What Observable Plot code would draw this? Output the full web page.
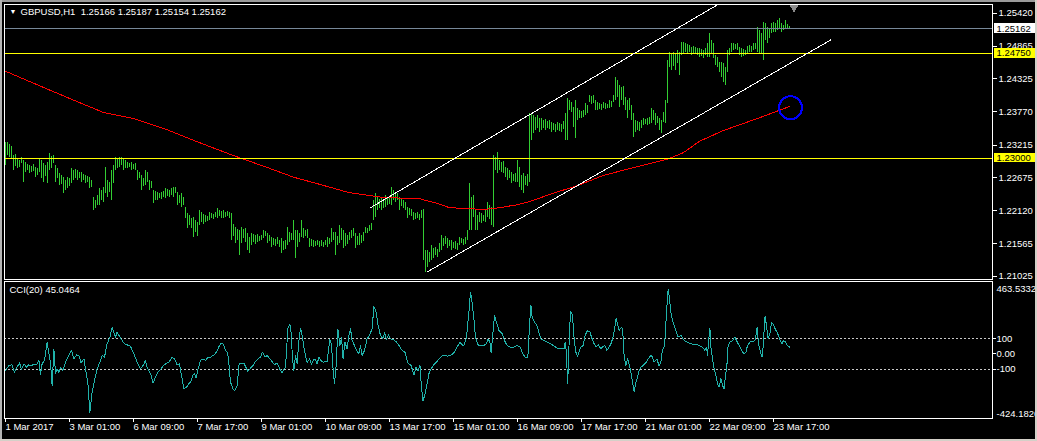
<!DOCTYPE html>
<html><head><meta charset="utf-8">
<script src="https://cdn.jsdelivr.net/npm/d3@7"></script>
<script src="https://cdn.jsdelivr.net/npm/@observablehq/plot@0.6"></script>
<style>
html,body{margin:0;padding:0;background:#000;}
#wrap{position:relative;width:1037px;height:441px;background:#000;overflow:hidden;}
#main,#cci{position:absolute;left:0;}
#main{top:0;} #cci{top:280px;}
svg{shape-rendering:crispEdges;}
.b{position:absolute;}
</style></head><body>
<div id="wrap"><div id="main"></div><div id="cci"></div>
<div class="b" style="left:0;top:0;width:1037px;height:2px;background:#9a9a9a"></div>
<div class="b" style="left:0;top:0;width:2px;height:441px;background:#b4b4b4"></div>
<div class="b" style="left:1035px;top:0;width:2px;height:441px;background:#d4d0c8"></div>
<div class="b" style="left:0;top:439px;width:1037px;height:2px;background:#d4d0c8"></div>
</div>
<script>
const titleText = "GBPUSD,H1\u00a0\u00a01.25166 1.25187 1.25154 1.25162";
const cciTitle = "CCI(20) 45.0464";

const barHigh = [
1.2326,1.2326,1.2323,1.2319,1.2304,1.2306,1.2299,1.2296,1.2301,1.2296,
1.2293,1.2289,1.2288,1.2286,1.2289,1.2284,1.2283,1.2298,1.2296,1.2291,
1.2288,1.2293,1.2308,1.2303,1.2304,1.2288,1.2283,1.2274,1.2271,1.2268,
1.2262,1.2268,1.2266,1.2283,1.2279,1.2281,1.2279,1.2276,1.2276,1.2273,
1.2271,1.2269,1.2268,1.2262,1.2234,1.2229,1.2237,1.2249,1.2246,1.2251,
1.2284,1.2262,1.2259,1.2279,1.2288,1.2301,1.2299,1.2301,1.2301,1.2299,
1.2296,1.2293,1.2291,1.2293,1.2289,1.2291,1.2279,1.2276,1.2271,1.2266,
1.2279,1.2276,1.2262,1.2261,1.2246,1.2244,1.2242,1.2241,1.2242,1.2244,
1.2249,1.2247,1.2246,1.2249,1.2251,1.2251,1.2242,1.2237,1.2241,1.2234,
1.2217,1.2207,1.2204,1.2199,1.2200,1.2196,1.2192,1.2212,1.2209,1.2205,
1.2204,1.2202,1.2209,1.2207,1.2205,1.2209,1.2216,1.2212,1.2210,1.2212,
1.2209,1.2210,1.2209,1.2207,1.2189,1.2184,1.2180,1.2179,1.2184,1.2180,
1.2182,1.2174,1.2167,1.2174,1.2172,1.2170,1.2172,1.2169,1.2170,1.2179,
1.2177,1.2174,1.2170,1.2167,1.2165,1.2164,1.2167,1.2162,1.2165,1.2160,
1.2162,1.2184,1.2175,1.2174,1.2196,1.2179,1.2179,1.2174,1.2196,1.2182,
1.2179,1.2180,1.2165,1.2164,1.2162,1.2160,1.2162,1.2160,1.2162,1.2159,
1.2162,1.2167,1.2165,1.2182,1.2175,1.2175,1.2169,1.2187,1.2182,1.2179,
1.2174,1.2170,1.2175,1.2179,1.2182,1.2174,1.2169,1.2174,1.2170,1.2175,
1.2184,1.2182,1.2187,1.2190,1.2229,1.2241,1.2234,1.2231,1.2232,1.2229,
1.2237,1.2234,1.2236,1.2251,1.2246,1.2242,1.2241,1.2234,1.2231,1.2229,
1.2226,1.2217,1.2216,1.2214,1.2209,1.2207,1.2209,1.2205,1.2212,1.2214,
1.2146,1.2146,1.2142,1.2154,1.2149,1.2150,1.2147,1.2157,1.2170,1.2165,
1.2169,1.2165,1.2162,1.2162,1.2159,1.2160,1.2157,1.2167,1.2165,1.2164,
1.2167,1.2179,1.2257,1.2234,1.2237,1.2212,1.2204,1.2209,1.2207,1.2204,
1.2212,1.2226,1.2221,1.2217,1.2304,1.2301,1.2309,1.2296,1.2293,1.2294,
1.2284,1.2283,1.2279,1.2276,1.2273,1.2274,1.2296,1.2284,1.2271,1.2274,
1.2269,1.2273,1.2374,1.2374,1.2371,1.2368,1.2371,1.2366,1.2366,1.2363,
1.2364,1.2361,1.2363,1.2359,1.2358,1.2356,1.2359,1.2358,1.2356,1.2361,
1.2374,1.2399,1.2396,1.2392,1.2384,1.2396,1.2382,1.2379,1.2378,1.2379,
1.2391,1.2387,1.2404,1.2403,1.2404,1.2396,1.2392,1.2391,1.2389,1.2392,
1.2391,1.2389,1.2396,1.2394,1.2404,1.2435,1.2430,1.2421,1.2418,1.2420,
1.2401,1.2396,1.2399,1.2387,1.2374,1.2363,1.2361,1.2359,1.2363,1.2366,
1.2364,1.2366,1.2368,1.2382,1.2379,1.2374,1.2369,1.2366,1.2363,1.2376,
1.2396,1.2463,1.2476,1.2475,1.2476,1.2475,1.2480,1.2476,1.2493,1.2493,
1.2491,1.2490,1.2488,1.2485,1.2486,1.2485,1.2483,1.2483,1.2481,1.2480,
1.2483,1.2491,1.2508,1.2496,1.2491,1.2471,1.2468,1.2460,1.2460,1.2458,
1.2451,1.2480,1.2483,1.2491,1.2491,1.2490,1.2491,1.2485,1.2483,1.2481,
1.2480,1.2486,1.2488,1.2486,1.2491,1.2491,1.2518,1.2513,1.2508,1.2526,
1.2525,1.2518,1.2516,1.2525,1.2526,1.2525,1.2530,1.2533,1.2525,1.2521,
1.2530,1.2523,1.2519];

const barLow = [
1.2288,1.2304,1.2301,1.2299,1.2279,1.2286,1.2283,1.2284,1.2291,1.2259,
1.2276,1.2279,1.2274,1.2276,1.2278,1.2268,1.2271,1.2276,1.2266,1.2259,
1.2269,1.2257,1.2279,1.2283,1.2291,1.2259,1.2266,1.2254,1.2256,1.2241,
1.2246,1.2249,1.2252,1.2257,1.2262,1.2266,1.2262,1.2266,1.2259,1.2262,
1.2257,1.2259,1.2249,1.2251,1.2212,1.2216,1.2221,1.2221,1.2229,1.2226,
1.2241,1.2234,1.2242,1.2229,1.2257,1.2279,1.2283,1.2284,1.2288,1.2279,
1.2283,1.2283,1.2284,1.2279,1.2281,1.2279,1.2262,1.2266,1.2246,1.2252,
1.2254,1.2259,1.2246,1.2249,1.2224,1.2229,1.2229,1.2232,1.2231,1.2234,
1.2232,1.2236,1.2234,1.2237,1.2234,1.2241,1.2221,1.2224,1.2217,1.2221,
1.2199,1.2182,1.2187,1.2182,1.2167,1.2175,1.2169,1.2187,1.2192,1.2189,
1.2192,1.2194,1.2196,1.2199,1.2197,1.2200,1.2199,1.2202,1.2199,1.2199,
1.2200,1.2202,1.2199,1.2162,1.2169,1.2157,1.2162,1.2137,1.2157,1.2165,
1.2159,1.2146,1.2141,1.2154,1.2159,1.2155,1.2159,1.2160,1.2162,1.2165,
1.2169,1.2157,1.2160,1.2150,1.2154,1.2152,1.2155,1.2150,1.2141,1.2146,
1.2147,1.2154,1.2159,1.2162,1.2162,1.2132,1.2150,1.2159,1.2167,1.2165,
1.2169,1.2165,1.2150,1.2152,1.2150,1.2152,1.2154,1.2150,1.2152,1.2150,
1.2154,1.2150,1.2155,1.2159,1.2162,1.2137,1.2154,1.2157,1.2162,1.2149,
1.2152,1.2155,1.2162,1.2165,1.2169,1.2149,1.2154,1.2154,1.2157,1.2160,
1.2174,1.2174,1.2177,1.2179,1.2196,1.2200,1.2212,1.2216,1.2212,1.2216,
1.2217,1.2221,1.2222,1.2221,1.2229,1.2226,1.2229,1.2212,1.2219,1.2216,
1.2212,1.2199,1.2204,1.2202,1.2196,1.2197,1.2199,1.2196,1.2199,1.2129,
1.2109,1.2117,1.2125,1.2129,1.2132,1.2137,1.2134,1.2142,1.2146,1.2152,
1.2155,1.2149,1.2152,1.2146,1.2149,1.2147,1.2146,1.2154,1.2157,1.2154,
1.2155,1.2162,1.2179,1.2179,1.2200,1.2179,1.2179,1.2192,1.2190,1.2194,
1.2192,1.2200,1.2197,1.2187,1.2184,1.2279,1.2274,1.2279,1.2276,1.2274,
1.2268,1.2262,1.2266,1.2257,1.2261,1.2259,1.2259,1.2251,1.2246,1.2241,
1.2254,1.2252,1.2259,1.2329,1.2341,1.2346,1.2349,1.2343,1.2346,1.2349,
1.2346,1.2349,1.2348,1.2343,1.2346,1.2343,1.2346,1.2344,1.2343,1.2348,
1.2329,1.2329,1.2379,1.2376,1.2351,1.2333,1.2363,1.2366,1.2366,1.2368,
1.2371,1.2374,1.2392,1.2389,1.2391,1.2379,1.2379,1.2381,1.2379,1.2382,
1.2381,1.2382,1.2382,1.2384,1.2392,1.2396,1.2401,1.2384,1.2396,1.2387,
1.2379,1.2366,1.2379,1.2363,1.2334,1.2343,1.2346,1.2344,1.2349,1.2354,
1.2356,1.2354,1.2356,1.2358,1.2363,1.2354,1.2358,1.2346,1.2341,1.2359,
1.2358,1.2391,1.2451,1.2446,1.2453,1.2446,1.2458,1.2438,1.2471,1.2475,
1.2476,1.2475,1.2476,1.2471,1.2473,1.2473,1.2471,1.2468,1.2470,1.2466,
1.2471,1.2468,1.2468,1.2475,1.2466,1.2455,1.2451,1.2443,1.2435,1.2426,
1.2421,1.2443,1.2471,1.2476,1.2480,1.2481,1.2480,1.2471,1.2468,1.2470,
1.2471,1.2475,1.2476,1.2476,1.2480,1.2481,1.2476,1.2475,1.2475,1.2463,
1.2496,1.2491,1.2500,1.2508,1.2510,1.2510,1.2513,1.2516,1.2510,1.2513,
1.2516,1.2516,1.2515];

// moving average vertices [bar index, price]
const maPoints = [[0,1.2445],[14,1.2425],[31,1.2401],[49,1.2376],[64,1.2366],[81,1.2347],[96,1.2327],
[114,1.2304],[131,1.2284],[144,1.2268],[156,1.2257],[172,1.2242],[189,1.2234],[207,1.2232],[216,1.2224],
[222,1.2217],[239,1.2214],[247,1.2217],[256,1.2222],[262,1.2227],[272,1.2239],[286,1.2254],[299,1.2271],
[314,1.2284],[331,1.2298],[339,1.2309],[347,1.2328],[359,1.2346],[376,1.2366],[392,1.2386]];

// CCI(20) vertices [bar index, value]
const cciPoints = [[0,-109],[1.7,-76],[3.3,-71],[4.5,-120],[5.8,-87],[7,-58],[8,-102],[9.2,-65],[10.5,-87],[11.7,-71],
[12.8,-80],[14.2,-65],[15.5,-71],[16.7,-43],[17.5,-137],[18.3,-65],[19.5,-43],[20.8,78],[22,-21],[22.5,-54],
[23.3,-207],[24.2,30],[25,-130],[25.8,-98],[26.7,-120],[27.5,-87],[28.7,-109],[30,-54],[31.7,-10],[33,23],
[34.2,-32],[35.5,-6],[36.7,-10],[37.8,-58],[39.2,-32],[40.3,-120],[41.2,-196],[42.2,-383],[43.3,-251],[44.7,-163],
[45.8,-98],[47.2,-54],[48.3,-10],[49.5,-21],[50.8,67],[52.2,111],[53.3,176],[54.2,139],[55,111],[55.8,144],
[57.2,111],[58.3,89],[59.5,67],[60.8,60],[62.5,51],[64.2,1],[65.8,-54],[67.5,-98],[68.8,-76],[70,-43],
[70.8,-87],[72,-120],[72.8,-141],[73.8,-190],[75,-152],[76.2,-120],[77.5,-102],[78.7,-80],[80,-65],[81.7,-54],
[83.3,-21],[84.5,-32],[85.8,-71],[87,-65],[88,-141],[89.2,-229],[90.5,-218],[91.7,-196],[92.5,-185],[93.7,-141],
[94.5,-130],[95.3,-159],[96.3,-98],[97.5,-43],[98.7,-32],[100,-43],[101.2,-21],[102.5,-21],[104.2,-6],[105.5,12],
[106.7,49],[107.8,71],[108.8,67],[110,23],[111,12],[111.7,-65],[112.5,-185],[113.7,-229],[114.7,-240],[115.8,-207],
[116.8,-65],[117.8,-65],[119.2,-60],[120.2,-87],[121.2,-115],[122.5,-93],[123.8,-76],[125,-49],[126.2,-32],[127.5,-21],
[128.5,12],[129.7,-21],[130.8,-10],[132.2,-32],[133.3,-49],[134.5,-71],[135.8,-58],[136.8,-87],[137.5,-109],[138.3,-124],
[139.2,-98],[140,-87],[141.2,170],[142.2,192],[142.8,144],[143.5,-32],[144.2,-109],[145,-10],[145.8,-65],[146.7,89],
[147.5,170],[148.3,122],[149.2,45],[150,-10],[150.8,-58],[152,-32],[153,-71],[153.8,-43],[154.7,-32],[155.8,-65],
[156.7,-21],[157.8,-43],[158.8,-54],[160,-49],[160.8,-49],[162.2,95],[163,60],[163.8,-98],[164.5,-196],[165.3,-76],
[166.2,161],[167.2,56],[168,111],[168.8,-32],[169.7,78],[170.8,34],[171.7,122],[172.5,166],[173.3,89],[174.5,56],
[175.5,23],[176.7,1],[177.5,56],[178.3,-10],[179.5,23],[180.8,100],[182,122],[183.3,166],[184.2,312],[185.3,275],
[186.3,187],[187.5,122],[188.7,100],[189.5,139],[190.5,95],[191.5,126],[192.5,100],[193.8,95],[195.3,82],[196.7,56],
[198.3,23],[199.7,12],[201.2,-58],[202.8,-76],[204.2,-137],[205.3,-87],[206.3,-109],[207.2,-71],[207.8,-185],[208.7,-308],
[209.5,-277],[210.5,-218],[211.7,-130],[212.8,-98],[214.2,-71],[215.8,-49],[217.5,-21],[219.2,-6],[220.8,-14],[222.5,-10],
[224.2,8],[225.8,45],[227.2,78],[228.3,60],[229.2,56],[230.5,111],[231.7,275],[232.5,407],[233.3,341],[234.2,231],
[235,111],[236.2,60],[237.5,56],[239.2,56],[240.5,67],[241.3,100],[242.2,78],[242.8,8],[243.5,111],[244.5,253],
[245.5,209],[246.7,155],[248.3,133],[249.5,89],[250.8,56],[252.5,45],[254.2,45],[255.5,56],
[257.3,45],[258.5,8],[259.7,-21],[260.7,-27],[261.3,1],[262,187],[262.7,323],[263.3,242],[264.3,214],[265.2,198],
[266,176],[266.8,133],[267.7,100],[269.3,89],[271,78],[272.7,67],[274.3,51],[276,38],[277.7,38],[279.3,34],
[279.8,78],[280.5,12],[281,-196],[281.5,-65],[282,166],[282.7,280],[283.5,253],[284.3,100],[285.2,12],[286,-14],
[286.8,16],[287.7,45],[288.8,56],[289.8,122],[291,155],[292.2,144],[293,111],[294.3,67],[295.3,45],[296.5,60],
[297.7,34],[298.8,51],[299.7,56],[300.7,23],[301.8,45],[302.7,67],[303.8,111],[304.7,176],[305.3,236],[306,198],
[306.8,155],[307.5,170],[308.2,176],[308.8,111],[309.3,-10],[310.2,-76],[311,-32],[311.8,-65],[312.7,-120],[313.5,-185],
[314.3,-247],[315.2,-185],[316,-152],[316.8,-109],[317.7,-87],[318.8,-76],[320.2,-58],[321.3,-32],[322.7,-10],[323.5,-21],
[324.3,-54],[325.7,-32],[326.8,-80],[327.7,-54],[328.5,30],[329.3,45],[329.8,111],[330.5,275],[331.3,424],[331.8,385],
[332.7,275],[333.5,220],[334.3,187],[335.2,155],[336.3,111],[337.7,122],[339.3,89],[341,78],[342.7,67],[344.3,62],
[346,60],[347.3,51],[348.5,45],[349.7,23],[350.5,45],[351,-10],[351.5,78],[352.2,170],[352.7,45],[353.5,-27],
[354.3,-98],[355.2,-141],[356,-196],[356.8,-218],[357.7,-163],[358.5,-207],[359.3,-229],[360,-141],[360.7,-76],[361.3,56],
[362.3,78],[363.5,89],[364.7,111],[365.5,89],[366.3,67],[367.3,45],[368.5,12],[369.3,1],[370.2,12],[371,56],
[372.2,78],[373.5,82],[374.7,89],[375.2,122],[375.8,176],[376.5,67],[377.3,23],[378.2,-21],[378.7,23],[379.3,155],
[379.8,249],[380.7,166],[381.3,100],[382.2,133],[383,209],[384,192],[384.8,166],[385.7,144],[386.5,122],[387.3,89],
[388.2,67],[389,89],[389.8,82],[391,56],[392,45]];

const priceTicks = [1.25420, 1.24865, 1.24325, 1.23770, 1.23215, 1.22675, 1.22120, 1.21565, 1.21025];
const yellowLevels = [1.24750, 1.23000];
const bidLevel = [1.25162];
const cciLevels = [100, -100];
const cciTicks = [100, 0, -100];
const cciRange = [-424.1826, 463.5332];
const timeTickIdx = [0, 32, 64, 96, 128, 160, 192, 224, 256, 288, 320, 352, 384];
const timeTickLabel = ["1 Mar 2017", "3 Mar 01:00", "6 Mar 09:00", "7 Mar 17:00", "9 Mar 01:00", "10 Mar 09:00",
  "13 Mar 17:00", "15 Mar 01:00", "16 Mar 09:00", "17 Mar 17:00", "21 Mar 01:00", "22 Mar 09:00", "23 Mar 17:00"];
// trend channel [startIdx, startPrice, endIdx, endPrice]
const channelLines = [[182.5, 1.2217, 355.5, 1.2555], [210.5, 1.2109, 413, 1.2498]];
const circleMark = [[392.5, 1.2384]];
const shiftMark = [[394.25, 1.2552]];

const font = "'Liberation Sans', Arial, sans-serif";
const bars = barHigh.map((h, i) => ({i, h, l: barLow[i]}));
const fmt5 = d3.format(".5f");
const priceDomain = [1.20970, 1.25565];
const xDomain = [-0.5, 493.5];
const boxHalf = 0.0008;
const labelMap = new Map(timeTickIdx.map((d, k) => [d, timeTickLabel[k]]));

const main = Plot.plot({
  width: 1037, height: 280,
  marginLeft: 4, marginRight: 45, marginTop: 4, marginBottom: 1,
  style: {background: "black", color: "white", fontFamily: font, fontSize: "9.5px"},
  x: {domain: xDomain, axis: null},
  y: {domain: priceDomain, axis: null},
  marks: [
    Plot.ruleX(bars, {x: "i", y1: "l", y2: "h", stroke: "#32cd32"}),
    Plot.line(maPoints, {x: d => d[0], y: d => d[1], stroke: "#ff0000", strokeWidth: 1}),
    Plot.ruleY(yellowLevels, {stroke: "#ffff00"}),
    Plot.ruleY(bidLevel, {stroke: "#778899"}),
    Plot.link(channelLines, {x1: d => d[0], y1: d => d[1], x2: d => d[2], y2: d => d[3], stroke: "white", clip: true}),
    Plot.dot(circleMark, {x: d => d[0], y: d => d[1], r: 11.5, stroke: "#0000ff", strokeWidth: 2, fill: "none"}),
    Plot.dot(shiftMark, {x: d => d[0], y: d => d[1], r: 3.5, symbol: "triangle", rotate: 180, fill: "#8a8a8a", stroke: "none"}),
    Plot.frame({stroke: "white"}),
    Plot.axisY({anchor: "right", ticks: priceTicks, tickFormat: fmt5, tickSize: 4, tickPadding: 2, label: null, stroke: "white", fill: "white"}),
    Plot.rect(bidLevel, {x1: 494.5, x2: 515, y1: d => d - boxHalf, y2: d => d + boxHalf, fill: "white"}),
    Plot.rect(yellowLevels, {x1: 494.5, x2: 515, y1: d => d - boxHalf, y2: d => d + boxHalf, fill: "#ffff00"}),
    Plot.text(bidLevel.concat(yellowLevels), {x: 495.5, y: d => d, text: d => fmt5(d), fill: "black", textAnchor: "start"}),
    Plot.text(["\u25BC"], {frameAnchor: "top-left", dx: 5, dy: 5, fill: "white", fontSize: 7}),
    Plot.text([titleText], {frameAnchor: "top-left", dx: 16, dy: 4, fill: "white", textAnchor: "start"})
  ]
});
document.getElementById("main").appendChild(main);

const cci = Plot.plot({
  width: 1037, height: 161,
  marginLeft: 4, marginRight: 45, marginTop: 3, marginBottom: 23,
  style: {background: "black", color: "white", fontFamily: font, fontSize: "9.5px"},
  x: {domain: xDomain, axis: null},
  y: {domain: cciRange, axis: null},
  marks: [
    Plot.ruleY(cciLevels, {stroke: "#c8c8c8", strokeDasharray: "2,2"}),
    Plot.line(cciPoints, {x: d => d[0], y: d => d[1], stroke: "#20b2aa", strokeWidth: 1}),
    Plot.frame({stroke: "white", insetTop: -2}),
    Plot.axisY({anchor: "right", ticks: cciTicks, tickFormat: d => d === 0 ? "0.00" : String(d), tickSize: 3, tickPadding: 1, label: null, stroke: "white", fill: "white"}),
    Plot.text([cciRange[1]], {frameAnchor: "top-right", dx: 4, dy: 2, text: d => d.toFixed(4), textAnchor: "start", lineAnchor: "top", fill: "white"}),
    Plot.text([cciRange[0]], {frameAnchor: "bottom-right", dx: 4, dy: -2, text: d => d.toFixed(4), textAnchor: "start", lineAnchor: "bottom", fill: "white"}),
    Plot.axisX({anchor: "bottom", ticks: timeTickIdx, tickFormat: d => labelMap.get(d), tickSize: 4, tickPadding: 1, textAnchor: "start", label: null, stroke: "white", fill: "white"}),
    Plot.text([cciTitle], {frameAnchor: "top-left", dx: 5, dy: 3, fill: "white", textAnchor: "start"})
  ]
});
document.getElementById("cci").appendChild(cci);
</script>
</body></html>
